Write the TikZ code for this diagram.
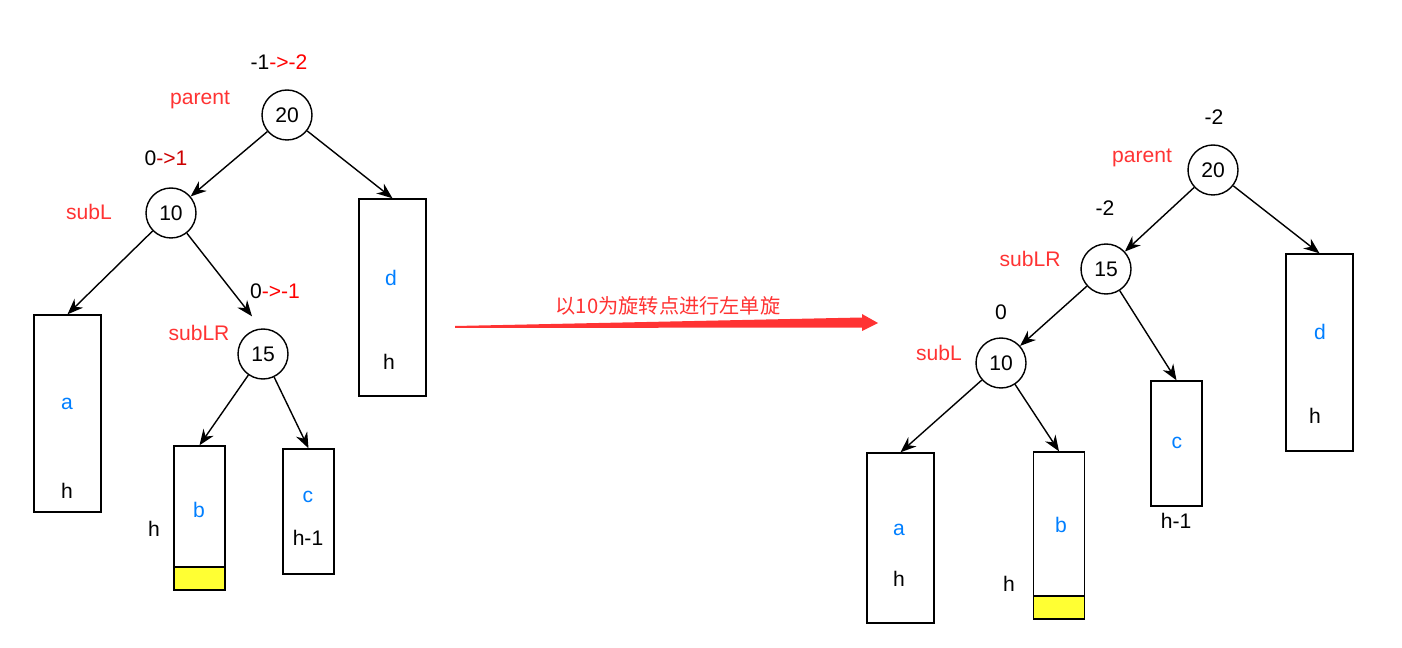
\documentclass[tikz,border=0pt]{standalone}
\usepackage{fontspec}
\setmainfont{Liberation Sans}
\newfontfamily\cjk{Noto Sans CJK SC}
\usepackage{xcolor}
\usetikzlibrary{arrows.meta, positioning}

\definecolor{lblred}{HTML}{FF3333}
\definecolor{pured}{HTML}{FF0000}
\definecolor{darkred}{HTML}{CC0000}
\definecolor{letblue}{HTML}{007FFF}
\definecolor{stripyellow}{HTML}{FFFF33}

\begin{document}
\begin{tikzpicture}[
			x=0.02cm, y=-0.02cm,
			font=\fontsize{12}{14}\selectfont,
			treenode/.style={circle, draw=black, thick, fill=white, minimum size=1cm, inner sep=0pt},
			subtree/.style={rectangle, draw=black, thick, fill=white, inner sep=0pt},
			wide/.style={minimum width=1.34cm},
			narrow/.style={minimum width=1.02cm},
			strip/.style={rectangle, draw=black, thick, fill=stripyellow, minimum width=1.02cm, minimum height=0.46cm, inner sep=0pt},
			role/.style={text=lblred},
			letter/.style={text=letblue},
			arrow/.style={thick, -{Stealth[length=9pt, width=7pt]}},
			rotarrow/.style={fill=lblred, draw=none}
			]
			\useasboundingbox (0,0) rectangle (1402,648);
			
			% Arbol antes del giro
			\node (n20) [treenode] at (287,115) {20};
			\node (n10) [treenode] at (171,213) {10};
			\node (n15) [treenode] at (263,354) {15};
			\node (dL) [subtree, wide, minimum height=3.94cm] at (392.5,297.5) {};
			\node (aL) [subtree, wide, minimum height=3.94cm] at (67.5,413.5) {};
			\node (bL) [subtree, narrow, minimum height=2.88cm] at (199.5,518) {};
			\node (yL) [strip, anchor=south] at (bL.south) {};
			\node (cL) [subtree, narrow, minimum height=2.5cm] at (308.5,511.5) {};
			
			\node (dLt) [letter] at (391,278) {d};
			\node (dLh) at (389,362) {h};
			\node (aLt) [letter] at (67,404) {a};
			\node (aLh) at (67,491) {h};
			\node (bLt) [letter] at (199,510) {b};
			\node (bLh) at (154,529) {h};
			\node (cLt) [letter] at (308,497) {c};
			\node (cLh) at (308,538) {h-1};
			
			\node (bf20L) at (279,62) {-1\textcolor{pured}{->-2}};
			\node (parL) [role] at (200,100) {parent};
			\node (bf10L) at (166,158) {0\textcolor{darkred}{->1}};
			\node (subLL) [role] at (89,212) {subL};
			\node (bf15L) at (275,291) {0\textcolor{pured}{->-1}};
			\node (subLRL) [role] at (199,333) {subLR};
			
			\draw [arrow] (n20) -- (n10);
			\draw [arrow] (n20) -- (dL.north);
			\draw [arrow] (n10) -- (aL.north);
			\draw [arrow] (n10) -- ([xshift=-0.22cm, yshift=0.24cm]n15.north);
			\draw [arrow] (n15) -- (bL.north);
			\draw [arrow] (n15) -- (cL.north);
			
			% Giro
			\coordinate (rotS) at (455,326);
			\coordinate (rotE) at (878,323);
			\fill [rotarrow] (rotS) -- ++(407,-8.5) -- ++(0,-3.5) -- (rotE) -- ++(-16,8) -- ++(0,-3.5) -- ++(-407,0.5) -- cycle;
			\node (rotTxt) [text=lblred, font=\cjk\fontsize{11.5}{13}\selectfont] at (668,306) {以10为旋转点进行左单旋};
			
			% Arbol despues del giro
			\node (m20) [treenode] at (1213,170) {20};
			\node (m15) [treenode] at (1106,269) {15};
			\node (m10) [treenode] at (1001,363) {10};
			\node (dR) [subtree, wide, minimum height=3.94cm] at (1319.5,352.5) {};
			\node (cR) [subtree, narrow, minimum height=2.5cm] at (1176.5,443.5) {};
			\node (aR) [subtree, wide, minimum height=3.4cm] at (900.5,538) {};
			\node (bR) [subtree, narrow, minimum height=3.34cm] at (1059,535.5) {};
			\node (yR) [strip, anchor=south] at (bR.south) {};
			
			\node (dRt) [letter] at (1320,332) {d};
			\node (dRh) at (1315,416) {h};
			\node (cRt) [letter] at (1177,443) {c};
			\node (cRh) at (1176,521) {h-1};
			\node (aRt) [letter] at (899,530) {a};
			\node (aRh) at (899,579) {h};
			\node (bRt) [letter] at (1061,525) {b};
			\node (bRh) at (1009,584) {h};
			
			\node (bf20R) at (1214,117) {-2};
			\node (parR) [role] at (1142,158) {parent};
			\node (bf15R) at (1105,208) {-2};
			\node (subLRR) [role] at (1030,259) {subLR};
			\node (bf10R) at (1001,312) {0};
			\node (subLR) [role] at (939,353) {subL};
			
			\draw [arrow] (m20) -- (m15);
			\draw [arrow] (m20) -- (dR.north);
			\draw [arrow] (m15) -- (m10);
			\draw [arrow] (m15) -- (cR.north);
			\draw [arrow] (m10) -- (aR.north);
			\draw [arrow] (m10) -- (bR.north);
			
		\end{tikzpicture}
\end{document}
